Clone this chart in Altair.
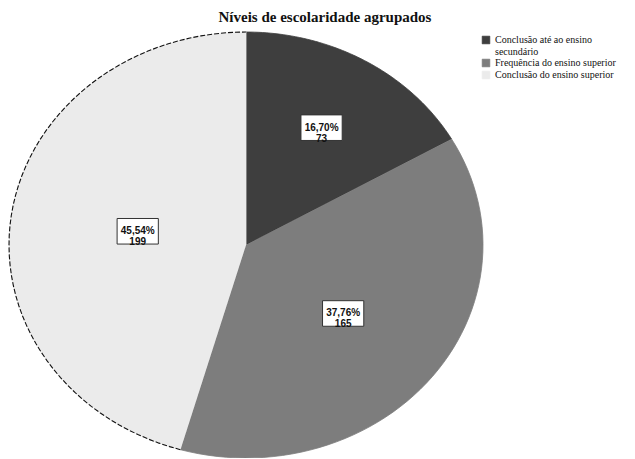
import altair as alt
import pandas as pd

categories = ["Conclusão até ao ensino secundário",
              "Frequência do ensino superior",
              "Conclusão do ensino superior"]
counts = [73, 165, 199]
colors = ["#3e3e3e", "#7d7d7d", "#ebebeb"]
title_text = "Níveis de escolaridade agrupados"

df = pd.DataFrame({"cat": categories, "count": counts, "ord": [0, 1, 2]})

xs = alt.Scale(domain=[-1, 1], nice=False, zero=False)
ys = alt.Scale(domain=[-1, 1], nice=False, zero=False)
cscale = alt.Scale(domain=categories, range=colors)

base = (alt.Chart(df)
        .transform_window(cum="sum(count)", sort=[alt.SortField("ord")], frame=[None, 0])
        .transform_joinaggregate(total="sum(count)")
        .transform_calculate(start="(datum.cum - datum.count) / datum.total",
                             end="datum.cum / datum.total"))

poly = (base
        .transform_calculate(pts="sequence(0, 62)")
        .transform_flatten(["pts"], as_=["i"])
        .transform_calculate(f="datum.start + (datum.end - datum.start) * min(datum.i, 60) / 60")
        .transform_calculate(px="datum.i > 60 ? 0 : sin(2 * PI * datum.f)",
                             py="datum.i > 60 ? 0 : cos(2 * PI * datum.f)"))

slices = poly.mark_line(strokeWidth=0.8, interpolate="linear").encode(
    x=alt.X("px:Q", scale=xs, axis=None),
    y=alt.Y("py:Q", scale=ys, axis=None),
    detail="cat:N",
    order="i:Q",
    fill=alt.Fill("cat:N", scale=cscale, sort=categories,
                  legend=alt.Legend(title=None, orient="none", legendX=472, legendY=3,
                                    symbolType="square", symbolSize=60,
                                    symbolStrokeColor="#222", symbolStrokeWidth=0.6,
                                    labelFontSize=10,
                                    labelColor="#111", labelLimit=200, rowPadding=0,
                                    padding=0,
                                    labelExpr="datum.label == 'Conclusão até ao ensino secundário' ? ['Conclusão até ao ensino', 'secundário'] : datum.label")),
    stroke=alt.Stroke("cat:N", scale=cscale, legend=None),
)

outline = (poly.transform_filter("datum.ord == 2 && datum.i <= 60")
           .mark_line(stroke="#111", strokeWidth=1.1, strokeDash=[5, 2])
           .encode(x=alt.X("px:Q", scale=xs, axis=None),
                   y=alt.Y("py:Q", scale=ys, axis=None),
                   order="i:Q"))

labels = (base
          .transform_calculate(mid="(datum.start + datum.end) / 2",
                               th="2 * PI * (datum.end - datum.start)")
          .transform_calculate(d="4 * sin(datum.th / 2) / (3 * datum.th)")
          .transform_calculate(lx="datum.d * sin(2 * PI * datum.mid)",
                               ly="datum.d * cos(2 * PI * datum.mid)",
                               txt="replace(format(datum.count / datum.total * 100, '.2f'), '.', ',') + '%\\n' + datum.count"))

boxes = labels.mark_point(shape="M-1,-0.62L1,-0.62L1,0.62L-1,0.62Z", size=1700,
                          filled=True, fill="white", stroke="#333", strokeWidth=1,
                          opacity=1).encode(
    x=alt.X("lx:Q", scale=xs, axis=None),
    y=alt.Y("ly:Q", scale=ys, axis=None))

texts = labels.mark_text(lineBreak="\n", font="Liberation Sans", fontSize=10,
                         fontWeight="bold", color="#111", lineHeight=11).encode(
    x=alt.X("lx:Q", scale=xs, axis=None),
    y=alt.Y("ly:Q", scale=ys, axis=None),
    text="txt:N")

chart = (alt.layer(slices, outline, boxes, texts)
         .properties(width=474, height=426,
                     autosize=alt.AutoSizeParams(type="none"),
                     padding={"left": 1, "top": 24, "right": 144, "bottom": 0},
                     title=alt.TitleParams(title_text, anchor="middle", dx=79, offset=5,
                                           font="Liberation Serif", fontSize=15,
                                           fontWeight="bold", color="#111"))
         .configure_view(stroke=None)
         .configure_legend(labelFont="Liberation Serif"))

chart.save("out.html", embed_options={"renderer": "svg", "actions": False})
